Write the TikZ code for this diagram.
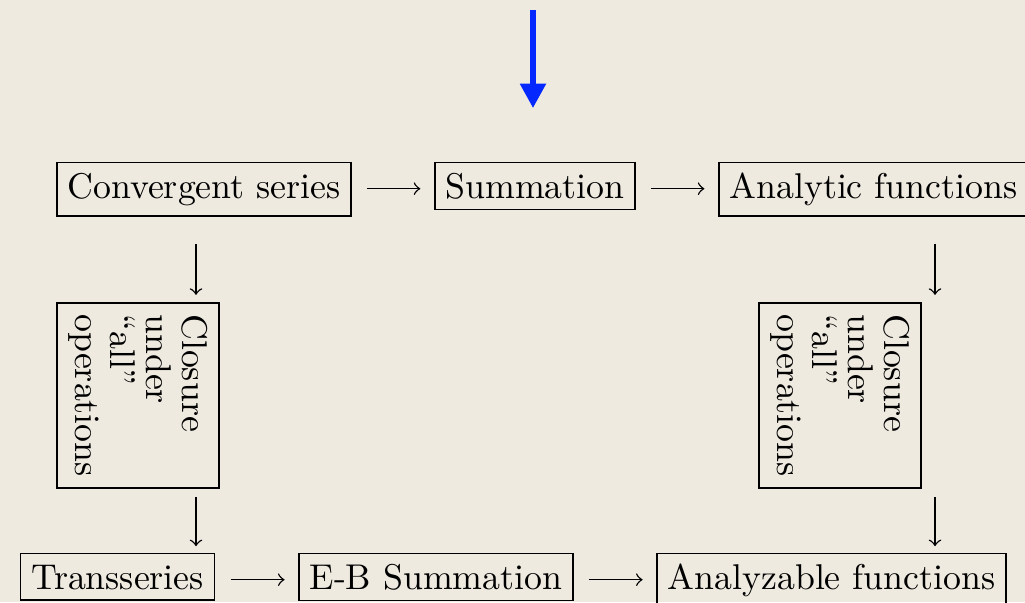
\documentclass[tikz,border=0pt]{standalone}
\usetikzlibrary{arrows.meta,calc}
\definecolor{bg}{RGB}{238,234,224}
\definecolor{myblue}{RGB}{5,40,255}
\begin{document}
\begin{tikzpicture}[x=0.2793pt,y=-0.2793pt,
  box/.style={draw, line width=0.45pt, inner sep=3pt, text height=6.94pt, anchor=base},
  vbox/.style={draw, line width=0.45pt, inner sep=3.2pt, rotate=-90, align=left,
    font=\fontsize{10pt}{10pt}\selectfont},
  harr/.style={-to, line width=0.4pt},
  varr/.style={-to, line width=0.4pt}]
\fill[bg] (0,0) rectangle (1025,602);
\useasboundingbox (0,0) rectangle (1025,602);
% blue arrow
\coordinate (btop) at (533,10);
\coordinate (bbot) at (533,108);
\draw[myblue, line width=1.45pt, -{Triangle[width=7pt,length=6.8pt]}] (btop) -- (bbot);
% top row
\node[box] (conv) at (204,198) {Convergent series};
\node[box] (summ) at (535,198) {Summation};
\node[box, anchor=base west] (anal) at (718,198) {Analytic functions};
% closure boxes
\node[vbox] (clL) at (138,395.5) {Closure\\under\\``all''\\operations};
\node[vbox] (clR) at (840,395.5) {Closure\\under\\``all''\\operations};
% bottom row
\node[box] (trans) at (117.5,589) {Transseries};
\node[box] (ebs) at (436,589) {E-B Summation};
\node[box] (analz) at (831.5,589) {Analyzable functions};
% column coordinates for vertical arrows
\coordinate (aL) at (196,0);
\coordinate (aR) at (935,0);
% horizontal arrows
\draw[harr, shorten <=4.3pt, shorten >=3.8pt] ([yshift=2.6pt]conv.base east) -- ([yshift=2.6pt]summ.base west);
\draw[harr, shorten <=4.3pt, shorten >=3.8pt] ([yshift=2.6pt]summ.base east) -- ([yshift=2.6pt]anal.base west);
\draw[harr, shorten <=4.3pt, shorten >=3.8pt] ([yshift=2.6pt]trans.base east) -- ([yshift=2.6pt]ebs.base west);
\draw[harr, shorten <=4.3pt, shorten >=3.8pt] ([yshift=2.6pt]ebs.base east) -- ([yshift=2.6pt]analz.base west);
% vertical arrows
\draw[varr, shorten <=7.5pt, shorten >=2pt] (conv.south -| aL) -- (clL.west -| aL);
\draw[varr, shorten <=2.2pt, shorten >=1.8pt] (clL.east -| aL) -- (trans.north -| aL);
\draw[varr, shorten <=7.5pt, shorten >=2pt] (anal.south -| aR) -- (clR.west -| aR);
\draw[varr, shorten <=2.2pt, shorten >=1.8pt] (clR.east -| aR) -- (analz.north -| aR);
\end{tikzpicture}
\end{document}
